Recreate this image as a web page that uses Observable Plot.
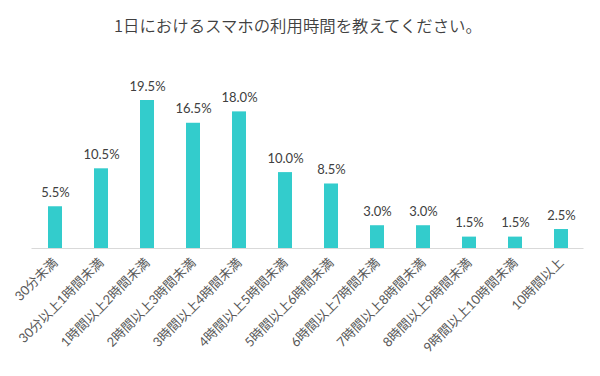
<!DOCTYPE html>
<html><head><meta charset="utf-8">
<script src="https://cdn.jsdelivr.net/npm/d3@7"></script>
<script src="https://cdn.jsdelivr.net/npm/@observablehq/plot@0.6"></script>
<style>
body{margin:0;background:#fff;width:600px;height:376px;overflow:hidden}
#title{height:50px;line-height:50px;text-align:center;font-family:"Noto Sans CJK JP",sans-serif;font-size:16.4px;font-weight:350;color:#404040;padding-right:4px;box-sizing:border-box}
</style></head>
<body>
<div id="title">1日におけるスマホの利用時間を教えてください。</div>
<div id="chart"></div>
<script>
const categories = ["30分未満","30分以上1時間未満","1時間以上2時間未満","2時間以上3時間未満","3時間以上4時間未満","4時間以上5時間未満","5時間以上6時間未満","6時間以上7時間未満","7時間以上8時間未満","8時間以上9時間未満","9時間以上10時間未満","10時間以上"];
const values = [5.5,10.5,19.5,16.5,18.0,10.0,8.5,3.0,3.0,1.5,1.5,2.5];
const data = categories.map((c,i)=>({cat:c, v:values[i]}));
const font = "Lato, 'Noto Sans CJK JP', sans-serif";
const chart = Plot.plot({
  width:600, height:326,
  marginTop:50, marginBottom:128, marginLeft:31.5, marginRight:16.5,
  style:{fontFamily:font, background:"#fff"},
  x:{domain:categories, paddingInner:0.7, paddingOuter:0.35, label:null},
  y:{domain:[0,19.5], axis:null},
  marks:[
    Plot.barY(data,{x:"cat", y:"v", fill:"#33CCCC"}),
    Plot.ruleY([0],{stroke:"#d9d9d9", strokeWidth:1}),
    Plot.text(data,{x:"cat", y:"v", text:d=>d.v.toFixed(1)+"%", dy:-14, fill:"#404040", fontSize:13, fontFamily:font}),
    Plot.axisX({tickSize:0, tickPadding:12, tickRotate:-45, fontSize:13, fill:"#595959", label:null})
  ]
});
document.getElementById("chart").appendChild(chart);
</script>
</body></html>
